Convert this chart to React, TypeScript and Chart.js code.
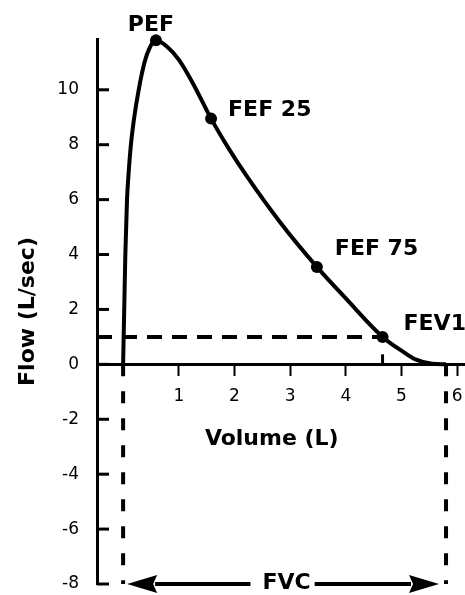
import React, { useEffect, useRef } from "react";
import { Chart, registerables } from "chart.js";

Chart.register(...registerables);

// Flow-volume curve (Volume in L, Flow in L/sec)
const curveVolume = [0, 0.02, 0.04, 0.07, 0.1, 0.14, 0.2, 0.28, 0.385, 0.47, 0.59, 0.8, 1.0, 1.25, 1.58, 1.9, 2.24, 2.83, 3.48, 4.0, 4.66, 5.02, 5.25, 5.55, 5.8];
const curveFlow = [0, 2, 4, 6, 7, 8, 9, 10, 11, 11.5, 11.8, 11.55, 11.1, 10.25, 8.95, 7.85, 6.8, 5.15, 3.55, 2.4, 1.0, 0.47, 0.18, 0.02, 0];

// Marked points
const markerLabels = ["PEF", "FEF 25", "FEF 75", "FEV1"];
const markerVolume = [0.59, 1.58, 3.48, 4.66];
const markerFlow = [11.8, 8.95, 3.55, 1.0];

// Axes
const xTicks = [1, 2, 3, 4, 5, 6];
const yTicks = [-8, -6, -4, -2, 0, 2, 4, 6, 8, 10];
const xTitle = "Volume (L)";
const yTitle = "Flow (L/sec)";

// FVC span
const fvcLabel = "FVC";
const fvcStart = 0;
const fvcEnd = 5.8;
const fvcLevel = -8;

const FONT = "DejaVu Sans";

export default function App() {
  const ref = useRef<HTMLCanvasElement | null>(null);

  useEffect(() => {
    const canvas = ref.current;
    if (!canvas) return;

    // label offsets (px) relative to each marker: [dx, dy, align]
    const labelOffsets: [number, number, CanvasTextAlign][] = [
      [-5, -9, "center"],
      [17, -3, "left"],
      [18, -12, "left"],
      [21, -7, "left"],
    ];

    const overlay = {
      id: "overlay",
      afterDatasetsDraw(chart: any) {
        const ctx = chart.ctx as CanvasRenderingContext2D;
        const xs = chart.scales.x;
        const ys = chart.scales.y;
        const area = chart.chartArea;
        ctx.save();
        ctx.strokeStyle = "#000";
        ctx.fillStyle = "#000";

        // inward y tick marks
        ctx.lineWidth = 3;
        ctx.setLineDash([]);
        for (const v of yTicks) {
          const y = ys.getPixelForValue(v);
          ctx.beginPath();
          ctx.moveTo(area.left, y);
          ctx.lineTo(area.left + 12, y);
          ctx.stroke();
        }

        // FEV1 dashed horizontal
        const fevIdx = markerLabels.indexOf("FEV1");
        const fx = xs.getPixelForValue(markerVolume[fevIdx]);
        const fy = ys.getPixelForValue(markerFlow[fevIdx]);
        const y0 = ys.getPixelForValue(0);
        ctx.lineWidth = 4;
        ctx.setLineDash([15, 10]);
        ctx.beginPath();
        ctx.moveTo(area.left, fy);
        ctx.lineTo(fx, fy);
        ctx.stroke();
        // short drop to axis
        ctx.lineWidth = 3;
        ctx.setLineDash([10, 100]);
        ctx.beginPath();
        ctx.moveTo(fx, y0);
        ctx.lineTo(fx, fy);
        ctx.stroke();

        // FVC verticals
        const yb = ys.getPixelForValue(fvcLevel);
        const xa = xs.getPixelForValue(fvcStart);
        const xb = xs.getPixelForValue(fvcEnd);
        ctx.lineWidth = 4;
        ctx.setLineDash([12, 15]);
        for (const x of [xa, xb]) {
          ctx.beginPath();
          ctx.moveTo(x, y0);
          ctx.lineTo(x, yb);
          ctx.stroke();
        }

        // FVC arrow
        ctx.setLineDash([]);
        ctx.font = `bold 22px "${FONT}"`;
        const tw = ctx.measureText(fvcLabel).width;
        const cx = (xa + xb) / 2;
        const tipL = xa + 4;
        const tipR = xb - 7;
        const head = 30;
        ctx.lineWidth = 4;
        ctx.beginPath();
        ctx.moveTo(tipL + head - 2, yb);
        ctx.lineTo(cx - tw / 2 - 10, yb);
        ctx.moveTo(cx + tw / 2 + 6, yb);
        ctx.lineTo(tipR - head + 2, yb);
        ctx.stroke();
        ctx.beginPath();
        ctx.moveTo(tipL, yb);
        ctx.lineTo(tipL + head, yb - 9);
        ctx.lineTo(tipL + head - 4, yb);
        ctx.lineTo(tipL + head, yb + 9);
        ctx.closePath();
        ctx.fill();
        ctx.beginPath();
        ctx.moveTo(tipR, yb);
        ctx.lineTo(tipR - head, yb - 9);
        ctx.lineTo(tipR - head + 4, yb);
        ctx.lineTo(tipR - head, yb + 9);
        ctx.closePath();
        ctx.fill();
        ctx.textAlign = "center";
        ctx.textBaseline = "alphabetic";
        ctx.fillText(fvcLabel, cx + 2, yb + 5);

        // x title
        ctx.textAlign = "center";
        ctx.fillText(xTitle, xs.getPixelForValue(2.67), y0 + 81);

        // marker labels
        markerLabels.forEach((t, i) => {
          const px = xs.getPixelForValue(markerVolume[i]);
          const py = ys.getPixelForValue(markerFlow[i]);
          const [dx, dy, al] = labelOffsets[i];
          ctx.textAlign = al;
          ctx.fillText(t, px + dx, py + dy);
        });
        ctx.restore();
      },
    };

    const chart = new Chart(canvas, {
      type: "scatter",
      data: {
        datasets: [
          {
            data: curveVolume.map((x, i) => ({ x, y: curveFlow[i] })),
            showLine: true,
            borderColor: "#000",
            borderWidth: 4,
            pointRadius: 0,
            cubicInterpolationMode: "monotone",
            clip: false,
          } as any,
          {
            data: markerVolume.map((x, i) => ({ x, y: markerFlow[i] })),
            showLine: false,
            pointRadius: 6,
            pointBackgroundColor: "#000",
            pointBorderColor: "#000",
            pointBorderWidth: 0,
            clip: false,
          } as any,
        ],
      },
      options: {
        responsive: false,
        animation: false,
        events: [],
        layout: { padding: { left: 0, right: 0, top: 39, bottom: 11 } },
        plugins: { legend: { display: false }, tooltip: { enabled: false } },
        scales: {
          x: {
            type: "linear",
            position: { y: 0 } as any,
            min: -0.469,
            max: 6.5,
            afterBuildTicks: (s: any) => {
              s.ticks = xTicks.map((v) => ({ value: v }));
            },
            grid: { drawOnChartArea: false, drawTicks: true, tickLength: 10, tickWidth: 2, tickColor: "#000" },
            border: { display: true, color: "#000", width: 3 },
            ticks: { font: { family: FONT, size: 17 }, color: "#000", padding: 12, maxRotation: 0, autoSkip: false },
          },
          y: {
            type: "linear",
            position: "left",
            min: fvcLevel,
            max: 11.85,
            afterBuildTicks: (s: any) => {
              s.ticks = yTicks.map((v) => ({ value: v }));
            },
            afterFit: (s: any) => {
              s.width = 97;
            },
            grid: { drawOnChartArea: false, drawTicks: true, tickLength: 18, tickColor: "rgba(0,0,0,0)" },
            border: { display: true, color: "#000", width: 3 },
            ticks: { font: { family: FONT, size: 17 }, color: "#000", padding: 0, autoSkip: false },
            title: {
              display: true,
              text: yTitle,
              color: "#000",
              font: { family: FONT, size: 22, weight: "bold" },
              padding: { top: 15, bottom: 0 },
            },
          },
        },
      },
      plugins: [overlay],
    } as any);

    return () => chart.destroy();
  }, []);

  return (
    <div style={{ position: "fixed", left: 0, top: 0, width: 465, height: 595, overflow: "hidden", background: "#fff" }}>
      <canvas ref={ref} width={491} height={595} style={{ display: "block", width: 491, height: 595 }} />
    </div>
  );
}
